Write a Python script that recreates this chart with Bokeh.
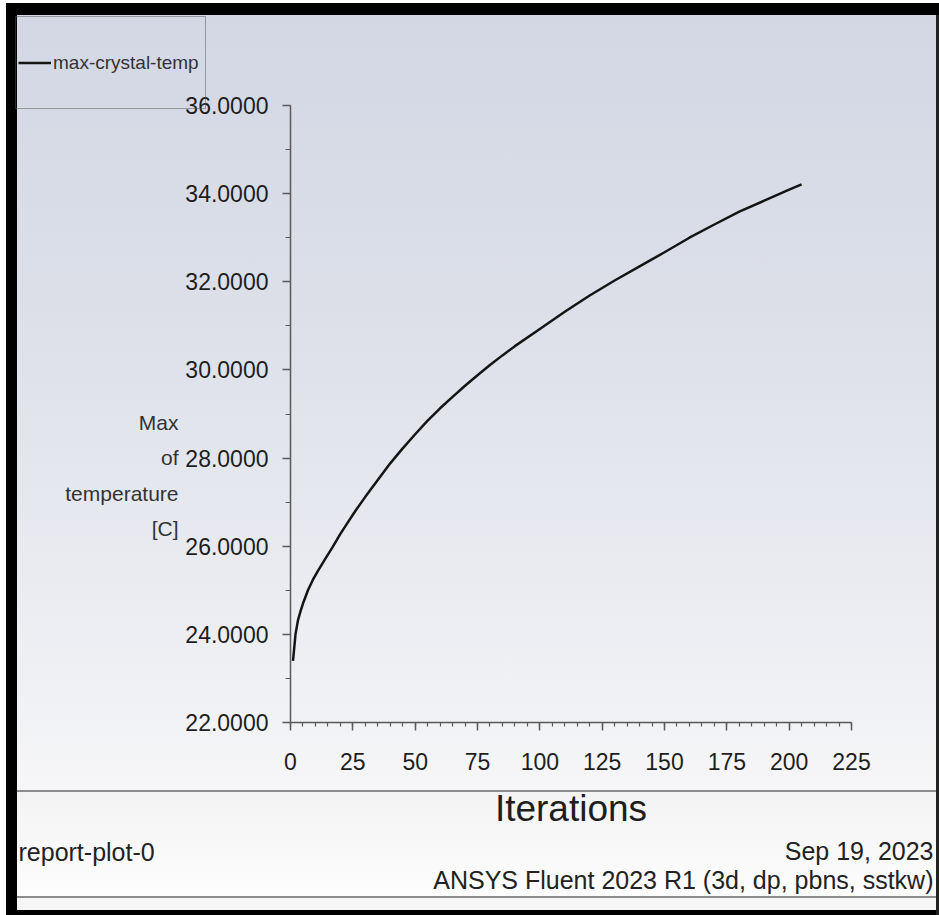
from bokeh.plotting import figure
from bokeh.models import (Range1d, SingleIntervalTicker, PrintfTickFormatter,
                          Legend, LegendItem, Label, LinearAxis)
from bokeh.embed import file_html
from bokeh.resources import INLINE

# ---- data ----
iterations = [1, 2, 3, 4, 5, 7, 9, 11, 14, 17, 20, 23, 26, 30, 35, 40, 45, 50,
              55, 60, 65, 70, 75, 80, 85, 90, 100, 110, 120, 130, 140, 150,
              160, 170, 180, 190, 200, 205]
max_crystal_temp = [23.40, 24.00, 24.32, 24.52, 24.70, 25.00, 25.24, 25.44,
                    25.72, 25.99, 26.28, 26.54, 26.80, 27.12, 27.50, 27.88,
                    28.22, 28.54, 28.85, 29.13, 29.39, 29.64, 29.88, 30.11,
                    30.33, 30.54, 30.93, 31.32, 31.69, 32.03, 32.35, 32.67,
                    33.00, 33.30, 33.59, 33.84, 34.09, 34.21]
series_name = "max-crystal-temp"
x_title = "Iterations"
y_title_lines = ["Max", "of", "temperature", "[C]"]
footer_left = "report-plot-0"
footer_date = "Sep 19, 2023"
footer_version = "ANSYS Fluent 2023 R1 (3d, dp, pbns, sstkw)"

FONT = "Liberation Sans"
W, H = 939, 915
# pixel anchors of the axes box
PX_L, PX_R, PX_T, PX_B = 290, 851, 105, 722
X0, X1, Y0, Y1 = 0, 225, 22, 36
xs = (X1 - X0) / (PX_R - PX_L)
ys = (Y1 - Y0) / (PX_B - PX_T)


def dx(px):
    return X0 + (px - PX_L) * xs


def dy(py):
    return Y0 + (PX_B - py) * ys


p = figure(width=W, height=H, output_backend="svg", toolbar_location=None,
           x_range=Range1d(dx(0), dx(W)), y_range=Range1d(dy(H), dy(0)),
           x_axis_location=None, y_axis_location=None)
p.min_border = 0
p.min_border_left = 0
p.min_border_right = 0
p.min_border_top = 0
p.min_border_bottom = 0
p.border_fill_color = None
p.background_fill_color = None
p.outline_line_color = None
p.grid.visible = False

p.styles = {
    "background": (
        "linear-gradient(#000,#000) 6px 3px / 933px 12px no-repeat,"
        "linear-gradient(#000,#000) 6px 3px / 11px 912px no-repeat,"
        "linear-gradient(#222,#222) 936px 3px / 3px 912px no-repeat,"
        "linear-gradient(#000,#000) 6px 910px / 933px 5px no-repeat,"
        "linear-gradient(#8c8c8c,#8c8c8c) 17px 790px / 919px 2px no-repeat,"
        "linear-gradient(#8c8c8c,#8c8c8c) 17px 896px / 919px 2px no-repeat,"
        "linear-gradient(to bottom,#f3f3f4,#fdfdfd) 17px 792px / 919px 104px no-repeat,"
        "linear-gradient(#f6f6f6,#f6f6f6) 17px 898px / 919px 12px no-repeat,"
        "linear-gradient(to bottom,#d3d7e4 0%,#dde0e9 40%,#eaecf1 75%,#f6f6f8 100%) 17px 15px / 919px 775px no-repeat,"
        "#ffffff"
    )
}

line_r = p.line(iterations, max_crystal_temp, line_color="#151515", line_width=2.5)

# axes (fixed inside the full-canvas frame)
xa = LinearAxis(fixed_location=Y0, bounds=(X0, X1),
                ticker=SingleIntervalTicker(interval=25, num_minor_ticks=5))
ya = LinearAxis(fixed_location=X0, bounds=(Y0, Y1),
                ticker=SingleIntervalTicker(interval=2, num_minor_ticks=2),
                formatter=PrintfTickFormatter(format="%.4f"))
for ax in (xa, ya):
    ax.axis_line_color = "#5a5a5a"
    ax.axis_line_width = 1.5
    ax.major_tick_line_color = "#5a5a5a"
    ax.minor_tick_line_color = "#5a5a5a"
    ax.major_tick_line_width = 1.5
    ax.minor_tick_line_width = 1.2
    ax.major_tick_in = 0
    ax.minor_tick_in = 0
    ax.major_label_text_font = FONT
    ax.major_label_text_font_size = "23px"
    ax.major_label_text_color = "#1e1e1e"
xa.major_tick_out = 8
xa.minor_tick_out = 4
xa.major_label_standoff = 22
ya.major_tick_out = 8
ya.minor_tick_out = 5
ya.major_label_standoff = 14

xa.axis_label = x_title
xa.axis_label_text_font = FONT
xa.axis_label_text_font_size = "37px"
xa.axis_label_text_font_style = "normal"
xa.axis_label_text_color = "#1e1e1e"
xa.axis_label_standoff = 15
p.add_layout(xa, "below")
p.add_layout(ya, "left")

# y title (multi-line, right aligned)
for txt, base in zip(y_title_lines, [421.5, 457, 492.5, 528]):
    p.add_layout(Label(x=dx(178), y=dy(base), text=txt, text_align="right",
                       text_baseline="alphabetic", text_font=FONT,
                       text_font_size="21px", text_color="#333333"))

# footer texts
p.add_layout(Label(x=dx(18), y=dy(851.7), text=footer_left, text_align="left",
                   text_baseline="alphabetic", text_font=FONT,
                   text_font_size="25px", text_color="#222222"))
p.add_layout(Label(x=dx(933), y=dy(850.7), text=footer_date, text_align="right",
                   text_baseline="alphabetic", text_font=FONT,
                   text_font_size="25px", text_color="#222222"))
p.add_layout(Label(x=dx(933), y=dy(879.3), text=footer_version, text_align="right",
                   text_baseline="alphabetic", text_font=FONT,
                   text_font_size="25px", text_color="#222222"))

# legend
legend = Legend(items=[LegendItem(label=series_name, renderers=[line_r])],
                location=(15, H - 109), padding=2, spacing=0, margin=0,
                glyph_width=33, glyph_height=87, label_height=87,
                label_width=150, label_standoff=2,
                label_text_font=FONT, label_text_font_size="19px",
                label_text_color="#333333",
                border_line_color="#555555", border_line_width=1.5,
                background_fill_alpha=0)
p.add_layout(legend)

open("out.html", "w").write(file_html(p, INLINE))
